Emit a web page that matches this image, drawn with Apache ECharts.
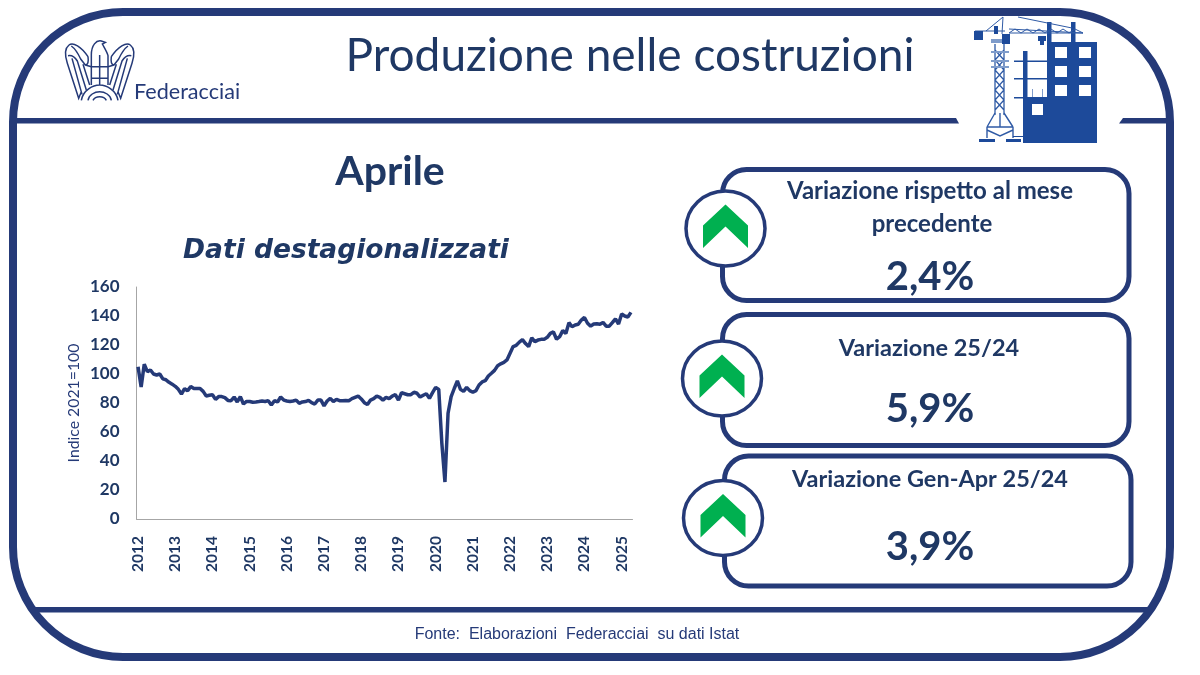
<!DOCTYPE html>
<html>
<head>
<meta charset="utf-8">
<title>Produzione nelle costruzioni</title>
<script src="https://cdn.jsdelivr.net/npm/echarts@6/dist/echarts.min.js"></script>
<style>
  html, body { margin: 0; padding: 0; background: #fff; }
  #main { width: 1200px; height: 675px; }
</style>
</head>
<body>
<div id="main"></div>
<script>
// indice destagionalizzato
const y2012 = [105, 91, 106.7, 101.6, 102.8, 100, 99.3, 100, 96.6, 96, 94.3, 93]
const y2013 = [91.5, 89.4, 86.2, 89.9, 88.5, 91.3, 90, 90, 90, 88, 84.8, 85.3]
const y2014 = [85.7, 82.5, 84.4, 84.4, 83.7, 81.8, 81.6, 84.1, 80.7, 84.4, 79.3, 81.1]
const y2015 = [81, 80.5, 80.7, 81, 81.4, 81, 81.6, 78.6, 81.6, 80.7, 84.1, 82]
const y2016 = [81.4, 81, 81.4, 82, 79.8, 80.7, 81, 81.8, 80.2, 79.3, 82, 82]
const y2017 = [78, 81.4, 83.2, 81, 82.5, 81.6, 81.6, 81.8, 81.6, 83, 83.9, 84.8]
const y2018 = [82.8, 80.2, 78.9, 82, 83, 84.8, 83.9, 82, 83.9, 83, 84.8, 85.7]
const y2019 = [82, 87.1, 86.4, 85.7, 85.7, 87.4, 86.7, 84.1, 85.3, 86.4, 83.2, 87.1]
const y2020 = [90.8, 89.4, 52.2, 25.5, 72.9, 84.4, 90, 95.2, 89.4, 88, 90.8, 88.5]
const y2021 = [87.4, 88.5, 92.4, 94.5, 95.4, 98.6, 100.5, 102.5, 105.7, 107, 108, 109.7]
const y2022 = [114.3, 118.9, 119.8, 122, 123.7, 121, 118.9, 125, 122.3, 123.4, 123.9, 123.9]
const y2023 = [125.3, 128, 129, 124, 125.7, 129.9, 128, 135.4, 132.6, 133.8, 134.3, 137.2]
const y2024 = [139, 135, 133, 134.5, 134.7, 134.3, 135.6, 133, 133, 135.4, 138, 134.5]
const y2025 = [141.4, 140, 139.3, 142.5]

const years = ['2012', '2013', '2014', '2015', '2016', '2017', '2018', '2019', '2020', '2021', '2022', '2023', '2024', '2025']
const yearValues = [y2012, y2013, y2014, y2015, y2016, y2017, y2018, y2019, y2020, y2021, y2022, y2023, y2024, y2025]

const categories = []
const values = []
yearValues.forEach((list, i) => {
  list.forEach((v, m) => {
    categories.push(years[i] + '-' + (m + 1))
    values.push(v)
  })
})

const NAVY = '#253a78'
const INK = '#1f3864'
const BLUE = '#1d4a9a'
const PALE = '#7f9ccb'
const GREEN = '#00b050'
const FONT = 'Lato'

// il componente graphic non ha il tipo "path": si registrano le forme disegnate a mano
let shapeCount = 0
function pathShape(d, style, extra) {
  const name = 'federacciaiShape' + (shapeCount++)
  echarts.graphic.registerShape(name, echarts.graphic.extendPath(d))
  return Object.assign({ type: name, z: 3, style: Object.assign({ fill: 'none' }, style) }, extra || {})
}

function label(text, x, y, size, opts) {
  return {
    type: 'text', x: x, y: y, z: 5,
    style: Object.assign({
      text: text, fill: INK, font: 'bold ' + size + 'px ' + FONT,
      textAlign: 'center', textVerticalAlign: 'middle'
    }, opts || {})
  }
}

function box(x0, y0, x1, y1) {
  return {
    type: 'rect', z: 1,
    shape: { x: x0, y: y0, width: x1 - x0, height: y1 - y0, r: 24 },
    style: { fill: '#fff', stroke: NAVY, lineWidth: 5 }
  }
}

// cerchio con la freccia verde
function badge(cx, cy) {
  return [
    {
      type: 'ellipse', z: 2,
      shape: { cx: cx, cy: cy, rx: 39.5, ry: 37.5 },
      style: { fill: '#fff', stroke: NAVY, lineWidth: 3.5 }
    },
    {
      type: 'polygon', z: 3,
      shape: { points: [[cx, cy - 24], [cx + 22.5, cy - 3], [cx + 22.5, cy + 19.5], [cx, cy - 2], [cx - 22.5, cy + 19.5], [cx - 22.5, cy - 3]] },
      style: { fill: GREEN }
    }
  ]
}

function bar(x, y, w, h, fill) {
  return { type: 'rect', z: 3, shape: { x: x, y: y, width: w, height: h }, style: { fill: fill || BLUE } }
}

function stroke(d, w) {
  return pathShape(d, { stroke: '#2f5aa5', lineWidth: w || 1 })
}

const wingPath = 'M90,65 C70,35 45,20 33,30 C20,40 20,60 28,85 L62,190 L70,170 ' +
  'M90,65 C92,80 90,90 82,90 L68,72 C60,55 50,40 40,33 ' +
  'M30,62 C40,60 50,65 58,78 L85,165 M42,70 L72,178 M75,88 L95,150 M82,90 L100,95'

const eaglePath = 'M100,60 C100,30 115,15 130,18 L142,22 L133,27 C140,40 147,50 150,62 L150,130 L100,130 Z ' +
  'M125,60 L125,150 M100,95 L150,95 M100,130 L100,150 M150,130 L150,150 ' +
  'M70,196 C75,165 105,150 125,150 C145,150 175,165 180,196 ' +
  'M90,196 C92,180 110,170 125,170 C140,170 158,180 160,196 ' +
  'M105,196 C108,190 115,185 125,185 C135,185 142,190 145,196'

const logoStyle = { stroke: NAVY, lineWidth: 4.5 }
const logo = [
  pathShape(wingPath, logoStyle, { x: 58, y: 35, scaleX: 1 / 3, scaleY: 1 / 3 }),
  pathShape(wingPath, logoStyle, { x: 58 + 250 / 3, y: 35, scaleX: -1 / 3, scaleY: 1 / 3 }),
  pathShape(eaglePath, logoStyle, { x: 58, y: 35, scaleX: 1 / 3, scaleY: 1 / 3 }),
  label('Federacciai', 134, 92, 21.6, { font: '21.6px ' + FONT, textAlign: 'left', fill: NAVY })
]

const building = [
  bar(1047, 42, 50, 101), bar(1047, 22, 4.5, 20), bar(1071, 22, 4.5, 20),
  bar(1023, 51, 4.5, 92), bar(1023, 98, 24, 45),
  bar(1014, 60.5, 33, 1.5), bar(1014, 78, 33, 1.5), bar(1014, 97, 33, 1.5),
  bar(1032, 89, 1, 8, PALE), bar(1042, 89, 1, 8, PALE),
  bar(1032, 104, 11, 11, '#fff'),
  bar(1055, 47, 12, 11, '#fff'), bar(1079, 47, 12, 11, '#fff'),
  bar(1055, 66, 12, 11, '#fff'), bar(1079, 66, 12, 11, '#fff'),
  bar(1055, 85, 12, 11, '#fff'), bar(1079, 85, 12, 11, '#fff'),
  // gru
  stroke('M995,44 L995,115 M1004,44 L1004,115 M995,50 L1004,60 L995,70 L1004,80 L995,90 L1004,100 L995,110 M1004,50 L995,60 L1004,70 L995,80 L1004,90 L995,100 L1004,110', 1.3),
  bar(991, 39, 18, 4, PALE), bar(991, 51, 18, 2, PALE), bar(991, 60, 18, 2, PALE), bar(991, 66, 18, 2, PALE),
  stroke('M995,113 L987,127 M1004,113 L1013,127 M987,127 L1013,127 M987,127 L987,138 M1013,127 L1013,138 M987,130 L1000,136 L1013,130 M1000,113 L1000,127', 1.4),
  stroke('M1009,29 L1083,33 M1009,33 L1083,33 M1009,33 L1015,29 L1021,33 L1027,29 L1033,33 L1039,29 L1045,33 L1051,29 L1057,33 L1063,29 L1069,33 L1075,29 L1083,33', 1),
  stroke('M975,31 L1005,31 M1003,17 L1002,34 M1003,17 L986,31 M1018,17 L1072,28', 1),
  bar(974, 31, 9, 9), bar(994, 26, 4, 8), bar(1002, 34, 8, 10),
  bar(1038, 36, 8, 5), bar(1040, 41, 4, 4),
  bar(979, 139, 16, 3), bar(1006, 139, 15, 3), bar(1013, 136, 10, 1)
]

const graphics = [
  { type: 'rect', z: 0, shape: { x: 0, y: 0, width: 1200, height: 675 }, style: { fill: '#fff' } },
  // cornice
  {
    type: 'rect', z: 1,
    shape: { x: 13, y: 12, width: 1157, height: 645, r: 110 },
    style: { fill: 'none', stroke: NAVY, lineWidth: 8 }
  },
  { type: 'polygon', z: 1, shape: { points: [[15, 118], [956, 118], [959, 123.5], [15, 123.5]] }, style: { fill: NAVY } },
  { type: 'polygon', z: 1, shape: { points: [[1123, 118], [1168, 118], [1168, 123.5], [1119, 123.5]] }, style: { fill: NAVY } },
  { type: 'rect', z: 1, shape: { x: 34, y: 607, width: 1116, height: 5.5 }, style: { fill: NAVY } },

  label('Produzione nelle costruzioni', 630, 56, 46, { font: '46px ' + FONT }),
  label('Aprile', 390, 172, 41),
  label('Dati destagionalizzati', 346, 251, 26.5, { font: 'italic bold 26.5px "DejaVu Sans"' }),

  box(722.5, 169.5, 1129, 300.5),
  box(722.5, 314.5, 1129, 445.5),
  box(724.5, 456, 1131, 586),
  ...badge(725.5, 228.5),
  ...badge(722, 378.5),
  ...badge(723, 518),

  label('Variazione rispetto al mese', 930, 191, 24),
  label('precedente', 932, 224, 24),
  label('2,4%', 930, 277, 40),
  label('Variazione 25/24', 929, 348, 23.5),
  label('5,9%', 930, 409, 40),
  label('Variazione Gen-Apr 25/24', 930, 479, 23.5),
  label('3,9%', 930, 547, 40),

  label('Fonte:  Elaborazioni  Federacciai  su dati Istat', 577, 635, 16, { font: '16px "Liberation Sans"', fill: NAVY }),
  ...logo,
  ...building
]

const myChart = echarts.init(document.getElementById('main'), null, { renderer: 'canvas' })
myChart.setOption({
  animation: false,
  backgroundColor: '#fff',
  graphic: { elements: graphics },
  grid: { left: 136.5, right: 1200 - 632.5, top: 287, bottom: 675 - 519 },
  xAxis: {
    type: 'category',
    data: categories,
    boundaryGap: true,
    axisLine: { lineStyle: { color: '#a6a6a6', width: 1 } },
    axisTick: { show: false },
    axisLabel: {
      interval: 11,
      rotate: 90,
      margin: 17,
      color: INK,
      fontFamily: FONT,
      fontWeight: 'bold',
      fontSize: 15.5,
      padding: [2, 0, 0, 0],
      formatter: (v) => v.split('-')[0]
    }
  },
  yAxis: {
    type: 'value',
    min: 0,
    max: 160,
    interval: 20,
    name: 'Indice 2021=100',
    nameLocation: 'middle',
    nameRotate: 90,
    nameGap: 55,
    nameTextStyle: { color: NAVY, fontFamily: FONT, fontSize: 15.8 },
    splitLine: { show: false },
    axisTick: { show: false },
    axisLine: { show: true, lineStyle: { color: '#a6a6a6', width: 1 } },
    axisLabel: { margin: 17, color: INK, fontFamily: FONT, fontWeight: 'bold', fontSize: 17, padding: [2, 0, 0, 0] }
  },
  series: [{
    type: 'line',
    data: values,
    showSymbol: false,
    smooth: false,
    lineStyle: { color: NAVY, width: 3.5 },
    z: 10
  }]
})
</script>
</body>
</html>
